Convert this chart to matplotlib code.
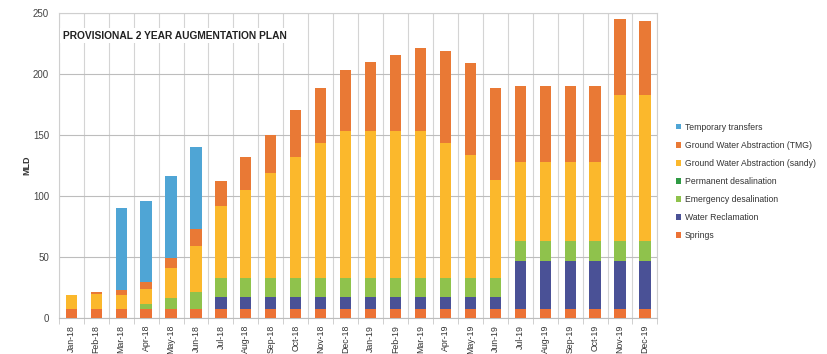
import matplotlib.pyplot as plt
import numpy as np

plt.rcParams['font.family'] = ['Liberation Sans', 'DejaVu Sans']

months = ["Jan-18", "Feb-18", "Mar-18", "Apr-18", "May-18", "Jun-18",
          "Jul-18", "Aug-18", "Sep-18", "Oct-18", "Nov-18", "Dec-18",
          "Jan-19", "Feb-19", "Mar-19", "Apr-19", "May-19", "Jun-19",
          "Jul-19", "Aug-19", "Sep-19", "Oct-19", "Nov-19", "Dec-19"]

springs = [7] * 24
reclamation = [0, 0, 0, 0, 0, 0] + [10] * 12 + [40] * 6
emergency = [0, 0, 0, 4.5, 9, 14] + [16] * 18
permanent = [0] * 24
sandy = [12, 12.5, 12, 12, 25, 38, 59, 72, 85.5, 98.5, 110, 120.5,
         120.5, 120.5, 120.5, 110, 100.5, 80, 65, 65, 65, 65, 120, 120]
tmg = [0, 2, 4, 5.5, 8, 14, 20.5, 26.5, 31.5, 38.5, 45, 50,
       56, 62, 68, 76, 75, 75, 62, 62, 62, 62, 61.5, 60.5]
temporary = [0, 0, 67, 67, 67, 67] + [0] * 18

series = [
    ("Springs", springs, "#ec7235"),
    ("Water Reclamation", reclamation, "#4a5196"),
    ("Emergency desalination", emergency, "#8fc24c"),
    ("Permanent desalination", permanent, "#2f9a44"),
    ("Ground Water Abstraction (sandy)", sandy, "#fbb82c"),
    ("Ground Water Abstraction (TMG)", tmg, "#e97935"),
    ("Temporary transfers", temporary, "#4fa5d5"),
]

fig = plt.figure(figsize=(8.28, 3.54), dpi=100)
ax = fig.add_axes([0.071, 0.102, 0.723, 0.862])

x = np.arange(len(months))
bottom = np.zeros(len(months))
handles = []
for name, vals, col in series:
    vals = np.array(vals, dtype=float)
    b = ax.bar(x, vals, 0.45, bottom=bottom, color=col, label=name, zorder=3)
    handles.append(b)
    bottom += vals

ax.set_xlim(-0.5, len(months) - 0.5)
ax.set_ylim(0, 250)
ax.set_yticks(np.arange(0, 251, 50))
ax.set_xticks(x)
ax.set_xticklabels(months, rotation=90, fontsize=6.3, color="#333333")
ax.tick_params(axis="x", length=0, pad=5)
ax.tick_params(axis="y", length=0, labelsize=7, labelcolor="#444444", pad=7)
ax.set_xticks(np.arange(-0.5, len(months), 1), minor=True)
ax.tick_params(axis="x", which="minor", length=4, color="#c8c8c8")
ax.grid(axis="y", color="#bdbdbd", linewidth=0.8, zorder=0)
ax.grid(axis="x", which="minor", color="#d4d4d4", linewidth=0.8, zorder=0)
ax.grid(axis="x", which="major", visible=False)
for s in ["top", "right", "left", "bottom"]:
    ax.spines[s].set_color("#cfcfcf")
    ax.spines[s].set_linewidth(0.8)
ax.spines["bottom"].set_color("#bdbdbd")

ax.set_ylabel("MLD", fontsize=6.5, fontweight="bold", color="#333333", labelpad=1)

ax.text(0.007, 0.925, "PROVISIONAL 2 YEAR AUGMENTATION PLAN", transform=ax.transAxes,
        fontsize=7.4, fontweight="bold", color="#222222", va="center", ha="left",
        bbox=dict(facecolor="white", edgecolor="none", pad=2), zorder=5)

leg = fig.legend(handles[::-1], [s[0] for s in series][::-1],
                 loc="upper left", bbox_to_anchor=(0.807, 0.675), frameon=False,
                 fontsize=6.2, handlelength=0.6, handleheight=0.6,
                 handletextpad=0.4, labelspacing=1.05, labelcolor="#333333")

fig.savefig("out.png", dpi=100)
